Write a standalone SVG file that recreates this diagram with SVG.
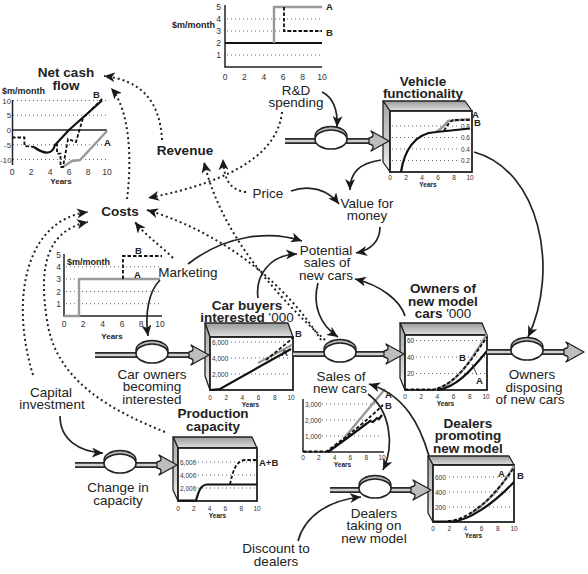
<svg xmlns="http://www.w3.org/2000/svg" width="588" height="574" viewBox="0 0 588 574">
<defs>
<linearGradient id="gTop" x1="0" y1="0" x2="0" y2="1"><stop offset="0" stop-color="#9a9a9a"/><stop offset="1" stop-color="#e0e0e0"/></linearGradient>
<linearGradient id="gSide" x1="0" y1="0" x2="0" y2="1"><stop offset="0" stop-color="#a6a6a6"/><stop offset="0.7" stop-color="#d6d6d6"/><stop offset="1" stop-color="#f2f2f2"/></linearGradient>
<marker id="ah" markerWidth="12" markerHeight="10" refX="11" refY="5" orient="auto" markerUnits="userSpaceOnUse"><path d="M0,0 L11,5 L0,10 L3,5 Z" fill="#1a1a1a"/></marker>
<path id="fh" d="M0,0 L-18,-10 Q-13,-4 -20,-3 L-20,3 Q-13,4 -18,10 Z" fill="#bdbdbd" stroke="#222" stroke-width="1.3" stroke-linejoin="round"/>
<style>
text{font-family:"Liberation Sans",Arial,Helvetica,sans-serif;fill:#222}
.lb{font-size:13.5px}
.tt{font-size:13.5px;font-weight:bold}
.rv{font-size:13.5px;font-weight:bold}
.c{text-anchor:middle}
.e{text-anchor:end}
.tk{font-size:8.5px;fill:#333}
.tn{font-size:7.8px;fill:#333}
.ts{font-size:6.5px;fill:#333}
.yr{font-size:6.5px;font-weight:bold}
.yr2{font-size:8px;font-weight:bold}
.ab{font-size:9.5px;font-weight:bold}
.um{font-size:9px;font-weight:bold}
.grid{stroke:#555;stroke-width:0.9;stroke-dasharray:1 3;fill:none}
.ax{stroke:#222;stroke-width:1.5;fill:none}
.bs{stroke:#111;stroke-width:2.2;fill:none}
.ga{stroke:#999;stroke-width:2.4;fill:none}
.db{stroke:#111;stroke-width:1.8;stroke-dasharray:3.5 2;fill:none}
.top{fill:url(#gTop);stroke:#222;stroke-width:1.3;stroke-linejoin:round}
.side{fill:url(#gSide);stroke:#222;stroke-width:1.3;stroke-linejoin:round}
.face{fill:#fff;stroke:#222;stroke-width:1.8}
.po{stroke:#2a2a2a;stroke-width:6;fill:none}
.pi{stroke:#d0d0d0;stroke-width:2.4;fill:none}
.lip{fill:#b8b8b8;stroke:#222;stroke-width:1.4}
.valve{fill:#fff;stroke:#222;stroke-width:1.6}
.cl{stroke:#222;stroke-width:1.7;fill:none;marker-end:url(#ah)}
.il{stroke:#222;stroke-width:2;fill:none;stroke-dasharray:2 3;marker-end:url(#ah)}
.ld{stroke:#222;stroke-width:0.8;fill:none}
</style>
</defs>
<rect width="588" height="574" fill="#fff"/>

<g id="rd-spending">
 <path class="grid" d="M227,55H322M227,31H322M227,19H322"/>
 <path class="bs" d="M225,43H322"/>
 <path class="ga" d="M274,43V7H322"/>
 <path class="db" d="M284,7V31H322"/>
 <path class="ax" d="M225,5V67H322"/>
 <text class="tk e" x="221" y="10">5</text>
 <text class="tk e" x="221" y="22">4</text>
 <text class="tk e" x="221" y="34">3</text>
 <text class="tk e" x="221" y="46">2</text>
 <text class="tk e" x="221" y="58">1</text>
 <text class="tk c" x="225" y="80">0</text>
 <text class="tk c" x="244.4" y="80">2</text>
 <text class="tk c" x="263.8" y="80">4</text>
 <text class="tk c" x="283.2" y="80">6</text>
 <text class="tk c" x="302.6" y="80">8</text>
 <text class="tk c" x="322" y="80">10</text>
 <text class="um e" x="215" y="28">$m/month</text>
 <text class="ab" x="326" y="10">A</text>
 <text class="ab" x="326" y="36">B</text>
 <text class="lb c" x="296" y="94.5">R&amp;D</text>
 <text class="lb c" x="296" y="107">spending</text>
</g>

<g id="net-cash-flow">
 <text class="tt c" x="66" y="76.5">Net cash</text>
 <text class="tt c" x="66" y="89.5">flow</text>
 <text class="um" x="2" y="94">$m/month</text>
 <path class="grid" d="M13,100.5H107M13,115.2H107M13,144.8H107M13,159.5H107"/>
 <path class="ax" d="M12.5,100V165"/>
 <path class="ax" d="M12,130H107" stroke-width="1.2"/>
 <text class="tn e" x="11" y="103.5">10</text>
 <text class="tn e" x="11" y="118">5</text>
 <text class="tn e" x="11" y="133">0</text>
 <text class="tn e" x="11" y="148">-5</text>
 <text class="tn e" x="11.5" y="162.5">-10</text>
 <text class="tk c" x="12" y="175">0</text>
 <text class="tk c" x="31" y="175">2</text>
 <text class="tk c" x="50" y="175">4</text>
 <text class="tk c" x="69" y="175">6</text>
 <text class="tk c" x="88" y="175">8</text>
 <text class="tk c" x="107" y="175">10</text>
 <text class="yr2 c" x="61" y="184">Years</text>
 <path class="ga" d="M63,167 L72,161 L80,160 L107,131"/>
 <path class="db" d="M12,137.5H24.4V146L34,147"/>
 <path class="bs" d="M34,147 Q42,153 48,152.5 Q53,152 55,145 L69,130 L102,100.5"/>
 <path class="db" d="M55,145H57V153.6H60.5V167H63L68,139L76,142L83,118L103,98"/>
 <text class="ab" x="93" y="98">B</text>
 <text class="ab" x="104" y="146">A</text>
</g>

<g id="revenue"><text class="rv c" x="185" y="155">Revenue</text></g>
<g id="costs"><text class="rv c" x="120" y="216">Costs</text></g>
<g id="price"><text class="lb c" x="268" y="198">Price</text></g>
<g id="value-for-money">
 <text class="lb c" x="367" y="207.5">Value for</text>
 <text class="lb c" x="367" y="220">money</text>
</g>
<g id="potential-sales">
 <text class="lb c" x="326" y="254.5">Potential</text>
 <text class="lb c" x="327" y="267">sales of</text>
 <text class="lb c" x="326" y="279.5">new cars</text>
</g>
<g id="capital-investment">
 <text class="lb c" x="51" y="396.5">Capital</text>
 <text class="lb c" x="52" y="409">investment</text>
</g>
<g id="discount">
 <text class="lb c" x="276" y="553">Discount to</text>
 <text class="lb c" x="276" y="565.5">dealers</text>
</g>

<g id="marketing">
 <path class="grid" d="M66,303.7H162M66,291.4H162M66,279.1H162M66,266.8H162"/>
 <path class="ax" d="M64,254V316H162"/>
 <text class="tk e" x="61" y="257.5">5</text>
 <text class="tk e" x="61" y="270">4</text>
 <text class="tk e" x="61" y="282">3</text>
 <text class="tk e" x="61" y="294.5">2</text>
 <text class="tk e" x="61" y="307">1</text>
 <text class="tk c" x="64" y="327">0</text>
 <text class="tk c" x="83" y="327">2</text>
 <text class="tk c" x="102.5" y="327">4</text>
 <text class="tk c" x="122" y="327">6</text>
 <text class="tk c" x="141" y="327">8</text>
 <text class="tk c" x="160" y="327">10</text>
 <text class="yr2 c" x="112" y="338.5">Years</text>
 <text class="um" x="67" y="265">$m/month</text>
 <path class="ga" d="M64,316H79V279H160" stroke="#8a8a8a"/>
 <path class="db" d="M123,279V256H162"/>
 <text class="ab" x="135" y="254">B</text>
 <text class="ab" x="134" y="277.5">A</text>
 <text class="lb c" x="188" y="277">Marketing</text>
</g>

<g id="vehicle-functionality">
 <text class="tt c" x="423" y="85.5">Vehicle</text>
 <text class="tt c" x="423" y="98">functionality</text>
 <polygon class="top" points="383,101 465,101 472,111 390,111"/>
 <polygon class="side" points="383,101 390,111 390,172 383,162"/>
 <rect class="face" x="390" y="111" width="82" height="61"/>
 <path class="grid" d="M392,126H460M392,137.5H460M392,149H460M392,160.5H460"/>
 <text class="ts e" x="470" y="128.5">0.8</text>
 <text class="ts e" x="470" y="140">0.6</text>
 <text class="ts e" x="470" y="151.5">0.4</text>
 <text class="ts e" x="470" y="163">0.2</text>
 <path class="ga" d="M436,132 Q443,128 448,121 L470,119"/>
 <path class="bs" d="M401,172 C404,152 414,133 436,132 L446,131 L470,128.5"/>
 <path class="db" d="M444,131 Q448,123 453,120 L470,120"/>
 <text class="ts c" x="390" y="179.5">0</text>
 <text class="ts c" x="406" y="179.5">2</text>
 <text class="ts c" x="422" y="179.5">4</text>
 <text class="ts c" x="438" y="179.5">6</text>
 <text class="ts c" x="454" y="179.5">8</text>
 <text class="ts c" x="470" y="179.5">10</text>
 <text class="yr c" x="428" y="186.5">Years</text>
 <text class="ab" x="472" y="118">A</text>
 <text class="ab" x="474" y="126">B</text>
</g>

<g id="car-buyers-interested">
 <text class="tt c" x="247" y="309.5">Car buyers</text>
 <text class="tt c" x="247" y="322">interested <tspan font-weight="normal">'000</tspan></text>
 <polygon class="top" points="205,323 288,323 293,337 210,337"/>
 <polygon class="side" points="205,323 210,337 210,390 205,376"/>
 <rect class="face" x="210" y="337" width="83" height="53"/>
 <path class="grid" d="M231,342H291M231,358H291M231,374H291"/>
 <text class="ts" x="212" y="344.5">6,000</text>
 <text class="ts" x="212" y="360.5">4,000</text>
 <text class="ts" x="212" y="376.5">2,000</text>
 <path class="ga" d="M258,363 L292,345"/>
 <path class="bs" d="M210,390 L220,389 L291,349"/>
 <path class="db" d="M266,360 L293,338"/>
 <text class="ts c" x="210" y="399.5">0</text>
 <text class="ts c" x="226.2" y="399.5">2</text>
 <text class="ts c" x="242.4" y="399.5">4</text>
 <text class="ts c" x="258.6" y="399.5">6</text>
 <text class="ts c" x="274.8" y="399.5">8</text>
 <text class="ts c" x="291" y="399.5">10</text>
 <text class="yr c" x="250.5" y="406.5">Years</text>
 <text class="ab" x="281" y="356">A</text>
 <text class="ab" x="295" y="337">B</text>
</g>

<g id="owners-of-new-model-cars">
 <text class="tt c" x="443" y="293">Owners of</text>
 <text class="tt c" x="443" y="305.5">new model</text>
 <text class="tt c" x="443" y="318">cars <tspan font-weight="normal">'000</tspan></text>
 <polygon class="top" points="400,323 482,323 487,335 405,335"/>
 <polygon class="side" points="400,323 405,335 405,390 400,378"/>
 <rect class="face" x="405" y="335" width="82" height="55"/>
 <path class="grid" d="M416,340.5H486M416,357H486M416,373.5H486"/>
 <text class="ts" x="407" y="343">60</text>
 <text class="ts" x="407" y="359.5">40</text>
 <text class="ts" x="407" y="376">20</text>
 <path class="ga" d="M434,390 C455,386 470,362 487,334"/>
 <path class="bs" d="M437,390 C455,388 470,372 487,351"/>
 <path class="db" d="M405,389.5H437M432,390 C455,385 470,362 487,337"/>
 <path class="ld" d="M477,375 L472,364"/>
 <text class="ts c" x="405" y="399">0</text>
 <text class="ts c" x="421.2" y="399">2</text>
 <text class="ts c" x="437.4" y="399">4</text>
 <text class="ts c" x="453.6" y="399">6</text>
 <text class="ts c" x="469.8" y="399">8</text>
 <text class="ts c" x="486" y="399">10</text>
 <text class="yr c" x="445.5" y="406">Years</text>
 <text class="ab" x="459" y="361">B</text>
 <text class="ab" x="476" y="384">A</text>
</g>

<g id="production-capacity">
 <text class="tt c" x="213" y="418">Production</text>
 <text class="tt c" x="213" y="430.5">capacity</text>
 <polygon class="top" points="173,437 252,437 257,448 178,448"/>
 <polygon class="side" points="173,437 178,448 178,501 173,490"/>
 <rect class="face" x="178" y="448" width="79" height="53"/>
 <path class="grid" d="M194,462H255M194,475H255M194,488H255"/>
 <text class="ts" x="180" y="464.5">6,000</text>
 <text class="ts" x="180" y="477.5">4,000</text>
 <text class="ts" x="180" y="490.5">2,000</text>
 <path class="bs" d="M178,500.5 L196,500.5 C199,490 201,485 207,484.5 L257,484.5"/>
 <path class="db" d="M230,484.5 C233,470 236,461 245,460 L257,460"/>
 <text class="ts c" x="178" y="511">0</text>
 <text class="ts c" x="193.8" y="511">2</text>
 <text class="ts c" x="209.6" y="511">4</text>
 <text class="ts c" x="225.4" y="511">6</text>
 <text class="ts c" x="241.2" y="511">8</text>
 <text class="ts c" x="257" y="511">10</text>
 <text class="yr c" x="217.5" y="517.5">Years</text>
 <text class="ab" x="259" y="466">A+B</text>
</g>

<g id="dealers-promoting">
 <text class="tt c" x="468" y="427.5">Dealers</text>
 <text class="tt c" x="468" y="440">promoting</text>
 <text class="tt c" x="468" y="452.5">new model</text>
 <polygon class="top" points="428,456 509,456 514,465 433,465"/>
 <polygon class="side" points="428,456 433,465 433,522 428,513"/>
 <rect class="face" x="433" y="465" width="81" height="57"/>
 <path class="grid" d="M449,477H513M449,492H513M449,507H513"/>
 <text class="ts" x="435" y="479.5">600</text>
 <text class="ts" x="435" y="494.5">400</text>
 <text class="ts" x="435" y="509.5">200</text>
 <path class="ga" d="M470,514 C485,505 500,490 514,466"/>
 <path class="bs" d="M433,521.5 L452,521.5 C468,521 492,505 514,482"/>
 <path class="db" d="M448,521 C468,520 492,500 513,469"/>
 <text class="ts c" x="433" y="530.5">0</text>
 <text class="ts c" x="449.2" y="530.5">2</text>
 <text class="ts c" x="465.4" y="530.5">4</text>
 <text class="ts c" x="481.6" y="530.5">6</text>
 <text class="ts c" x="497.8" y="530.5">8</text>
 <text class="ts c" x="514" y="530.5">10</text>
 <text class="yr c" x="473.5" y="537.5">Years</text>
 <text class="ab" x="498" y="477">A</text>
 <text class="ab" x="517" y="479">B</text>
</g>

<g id="flow-rd">
 <path class="po" d="M285,141H370"/><path class="pi" d="M285,141H370"/>
 <use href="#fh" x="389" y="141"/>
 <ellipse class="lip" cx="331" cy="136" rx="16" ry="9.5"/>
 <ellipse class="valve" cx="331" cy="139.5" rx="16" ry="9.5"/>
</g>

<g id="car-owners-becoming-interested">
 <path class="po" d="M95,355H190"/><path class="pi" d="M95,355H190"/>
 <use href="#fh" x="209" y="355"/>
 <ellipse class="lip" cx="152" cy="350" rx="16" ry="9.5"/>
 <ellipse class="valve" cx="152" cy="353.5" rx="16" ry="9.5"/>
 <text class="lb c" x="152" y="378.5">Car owners</text>
 <text class="lb c" x="152" y="391">becoming</text>
 <text class="lb c" x="152" y="403.5">interested</text>
</g>

<g id="sales-of-new-cars">
 <path class="po" d="M293,354H385"/><path class="pi" d="M293,354H385"/>
 <use href="#fh" x="404" y="354"/>
 <ellipse class="lip" cx="340" cy="349" rx="16" ry="9.5"/>
 <ellipse class="valve" cx="340" cy="352.5" rx="16" ry="9.5"/>
 <text class="lb c" x="341" y="380.5">Sales of</text>
 <text class="lb c" x="340" y="393">new cars</text>
 <path class="grid" d="M318,404H382M318,420H382M318,436H382"/>
 <text class="ts" x="305" y="406.5">3,000</text>
 <text class="ts" x="305" y="422.5">2,000</text>
 <text class="ts" x="305" y="438.5">1,000</text>
 <path class="ax" d="M303,399V452" stroke="#888"/>
 <path class="ax" d="M303,452H384"/>
 <path class="ga" d="M345,437 L385,389"/>
 <path class="bs" d="M328,452 L350,436 L362,427 L366,424 L370,421 L373,422 L377,418 L379,419 L382,415"/>
 <path class="db" d="M303,451.5H330M326,452 C340,441 360,427 383,405"/>
 <text class="ts c" x="303" y="459.5">0</text>
 <text class="ts c" x="318.8" y="459.5">2</text>
 <text class="ts c" x="334.6" y="459.5">4</text>
 <text class="ts c" x="350.4" y="459.5">6</text>
 <text class="ts c" x="366.2" y="459.5">8</text>
 <text class="ts c" x="382" y="459.5">10</text>
 <text class="yr c" x="342.5" y="466.5">Years</text>
 <text class="ab" x="385" y="398">A</text>
 <text class="ab" x="385" y="409">B</text>
</g>

<g id="owners-disposing">
 <path class="po" d="M487,352H565"/><path class="pi" d="M487,352H565"/>
 <use href="#fh" x="584" y="352"/>
 <ellipse class="lip" cx="527" cy="347" rx="16" ry="9.5"/>
 <ellipse class="valve" cx="527" cy="350.5" rx="16" ry="9.5"/>
 <text class="lb c" x="532" y="379">Owners</text>
 <text class="lb c" x="534" y="391.5">disposing</text>
 <text class="lb c" x="530" y="404">of new cars</text>
</g>

<g id="change-in-capacity">
 <path class="po" d="M75,465H158"/><path class="pi" d="M75,465H158"/>
 <use href="#fh" x="177" y="465"/>
 <ellipse class="lip" cx="120" cy="460" rx="16" ry="9.5"/>
 <ellipse class="valve" cx="120" cy="463.5" rx="16" ry="9.5"/>
 <text class="lb c" x="118" y="492">Change in</text>
 <text class="lb c" x="118" y="504.5">capacity</text>
</g>

<g id="dealers-taking-on">
 <path class="po" d="M330,490H412"/><path class="pi" d="M330,490H412"/>
 <use href="#fh" x="431" y="490"/>
 <ellipse class="lip" cx="375" cy="485" rx="16" ry="9.5"/>
 <ellipse class="valve" cx="375" cy="488.5" rx="16" ry="9.5"/>
 <text class="lb c" x="374" y="517.5">Dealers</text>
 <text class="lb c" x="374" y="530">taking on</text>
 <text class="lb c" x="374" y="542.5">new model</text>
</g>

<g id="connectors">
 <path class="cl" d="M322,92 C332,97 338,108 337,127"/>
 <path class="cl" d="M381,160 C360,163 350,172 350,190"/>
 <path class="cl" d="M291,191 C310,184 328,190 339,204"/>
 <path class="cl" d="M380,227 C380,240 372,250 356,253"/>
 <path class="cl" d="M188,264 C225,235 270,230 302,241"/>
 <path class="cl" d="M258,298 C255,275 270,255 297,254"/>
 <path class="cl" d="M405,316 C400,300 380,285 355,279"/>
 <path class="cl" d="M318,283 C312,305 320,325 338,337"/>
 <path class="cl" d="M160,280 C148,292 145,315 148,336"/>
 <path class="cl" d="M60,416 C60,440 80,452 103,453"/>
 <path class="cl" d="M368,394 C390,410 395,445 383,470"/>
 <path class="cl" d="M429,456 C420,425 405,395 369,384"/>
 <path class="cl" d="M298,541 C305,515 330,500 361,497"/>
 <path class="cl" d="M474,152 C540,170 560,270 528,337"/>
 <path class="il" d="M282,112 C278,150 240,180 148,198"/>
 <path class="il" d="M246,192 C230,190 224,180 223,159"/>
 <path class="il" d="M325,340 C270,290 220,230 204,162"/>
 <path class="il" d="M321,340 C290,290 230,235 147,210"/>
 <path class="il" d="M173,258 C160,245 145,235 135,222"/>
 <path class="il" d="M33,375 C10,300 25,220 88,212"/>
 <path class="il" d="M165,432 C110,410 55,380 47,320 C38,265 48,230 88,222"/>
 <path class="il" d="M162,140 C160,100 140,80 104,76"/>
 <path class="il" d="M127,199 C132,160 130,110 111,88"/>
</g>
</svg>
